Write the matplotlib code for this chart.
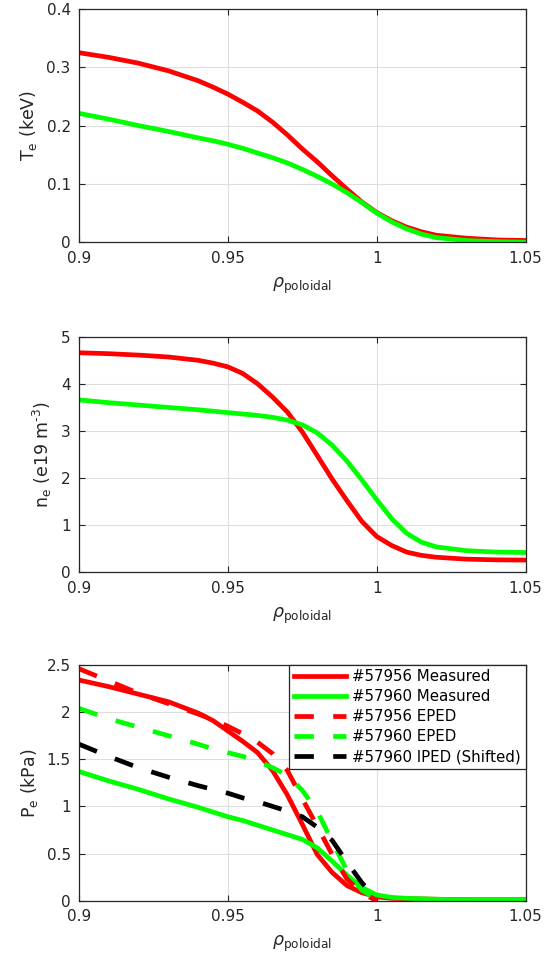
import matplotlib
matplotlib.use("Agg")
import matplotlib.pyplot as plt
from matplotlib.ticker import FixedLocator, FuncFormatter

plt.rcParams['font.family'] = ['DejaVu Sans']

# Radial coordinate grids (normalised poloidal flux)
rho = [0.90, 0.91, 0.92, 0.93, 0.94, 0.945, 0.95, 0.955, 0.96, 0.965, 0.97,
       0.975, 0.98, 0.985, 0.99, 0.995, 1.00, 1.005, 1.01, 1.015, 1.02,
       1.03, 1.04, 1.05]
rho_eped = [0.90, 0.91, 0.92, 0.93, 0.94, 0.945, 0.95, 0.955, 0.96, 0.965,
            0.97, 0.975, 0.98, 0.985, 0.99, 0.995, 1.00]

# Electron temperature (keV)
te_57956 = [0.325, 0.317, 0.307, 0.294, 0.277, 0.266, 0.254, 0.240, 0.225,
            0.206, 0.184, 0.160, 0.138, 0.114, 0.091, 0.069, 0.051, 0.037,
            0.026, 0.018, 0.012, 0.007, 0.004, 0.003]
te_57960 = [0.221, 0.211, 0.200, 0.190, 0.179, 0.174, 0.168, 0.161, 0.153,
            0.145, 0.136, 0.125, 0.113, 0.100, 0.085, 0.068, 0.050, 0.035,
            0.023, 0.014, 0.008, 0.003, 0.001, 0.000]

# Electron density (1e19 m^-3)
ne_57956 = [4.66, 4.64, 4.61, 4.57, 4.50, 4.44, 4.36, 4.22, 4.00, 3.72, 3.40,
            2.98, 2.48, 1.98, 1.52, 1.08, 0.76, 0.57, 0.43, 0.36, 0.32,
            0.28, 0.265, 0.26]
ne_57960 = [3.66, 3.60, 3.55, 3.50, 3.45, 3.42, 3.39, 3.36, 3.33, 3.29, 3.23,
            3.13, 2.96, 2.70, 2.36, 1.96, 1.54, 1.14, 0.83, 0.64, 0.54,
            0.46, 0.43, 0.42]

# Electron pressure (kPa)
pe_57956 = [2.34, 2.27, 2.19, 2.11, 1.99, 1.91, 1.80, 1.69, 1.57, 1.38, 1.12,
            0.81, 0.49, 0.30, 0.16, 0.085, 0.04, 0.025, 0.02, 0.018, 0.015,
            0.01, 0.01, 0.01]
pe_57960 = [1.37, 1.27, 1.18, 1.08, 0.99, 0.94, 0.89, 0.85, 0.80, 0.75, 0.70,
            0.65, 0.56, 0.42, 0.27, 0.14, 0.06, 0.035, 0.025, 0.02, 0.015,
            0.01, 0.01, 0.01]
pe_eped_57956 = [2.46, 2.33, 2.20, 2.09, 1.98, 1.92, 1.85, 1.77, 1.68, 1.56,
                 1.38, 1.08, 0.79, 0.49, 0.23, 0.08, 0.0]
pe_eped_57960 = [2.04, 1.93, 1.84, 1.75, 1.66, 1.61, 1.57, 1.53, 1.48, 1.41,
                 1.33, 1.17, 0.95, 0.63, 0.32, 0.11, 0.02]
pe_iped_57960 = [1.66, 1.53, 1.41, 1.31, 1.22, 1.18, 1.14, 1.09, 1.05, 1.00,
                 0.95, 0.89, 0.78, 0.64, 0.41, 0.19, 0.02]

x_ticks = [0.9, 0.95, 1.0, 1.05]
te_ticks = [0, 0.1, 0.2, 0.3, 0.4]
ne_ticks = [0, 1, 2, 3, 4, 5]
pe_ticks = [0, 0.5, 1, 1.5, 2, 2.5]

AX_COL = '0.15'
RED = (1, 0, 0)
GREEN = (0, 1, 0)
LW = 3.4
DASH = (0, (4.1, 4.1))

fig = plt.figure(figsize=(5.59, 9.64), dpi=100)

left, width = 0.1413, 0.7990
ax_te = fig.add_axes([left, 0.7487, width, 0.2420])
ax_ne = fig.add_axes([left, 0.4063, width, 0.2444])
ax_pe = fig.add_axes([left, 0.0657, width, 0.2445])

fmt = FuncFormatter(lambda v, p: f"{v:g}")


def style(ax, yticks, ylabel):
    ax.set_xlim(0.9, 1.05)
    ax.set_ylim(yticks[0], yticks[-1])
    ax.xaxis.set_major_locator(FixedLocator(x_ticks))
    ax.yaxis.set_major_locator(FixedLocator(yticks))
    ax.xaxis.set_major_formatter(fmt)
    ax.yaxis.set_major_formatter(fmt)
    ax.grid(True, color='0.87', linewidth=0.8)
    ax.set_axisbelow(True)
    ax.tick_params(direction='in', length=4, width=0.8, colors=AX_COL,
                   labelsize=11, top=True, right=True, pad=6)
    for s in ax.spines.values():
        s.set_color(AX_COL)
        s.set_linewidth(0.9)
    ax.set_xlabel(r'$\rho_{\rm poloidal}$', fontsize=12.5, color=AX_COL,
                  labelpad=7)
    ax.set_ylabel(ylabel, fontsize=12.5, color=AX_COL, labelpad=5)


ax_te.plot(rho, te_57956, color=RED, lw=LW)
ax_te.plot(rho, te_57960, color=GREEN, lw=LW)
style(ax_te, te_ticks, r'T$_{\rm e}$ (keV)')

ax_ne.plot(rho, ne_57956, color=RED, lw=LW)
ax_ne.plot(rho, ne_57960, color=GREEN, lw=LW)
style(ax_ne, ne_ticks, r'n$_{\rm e}$ (e19 m$^{\text{-}3}$)')

ax_pe.plot(rho, pe_57956, color=RED, lw=LW, label='#57956 Measured')
ax_pe.plot(rho, pe_57960, color=GREEN, lw=LW, label='#57960 Measured')
ax_pe.plot(rho_eped, pe_eped_57956, color=RED, lw=LW, ls=DASH,
           label='#57956 EPED')
ax_pe.plot(rho_eped, pe_eped_57960, color=GREEN, lw=LW, ls=DASH,
           label='#57960 EPED')
ax_pe.plot(rho_eped, pe_iped_57960, color='k', lw=LW, ls=DASH,
           label='#57960 IPED (Shifted)')
style(ax_pe, pe_ticks, r'P$_{\rm e}$ (kPa)')

leg = ax_pe.legend(loc='upper right', bbox_to_anchor=(1.0, 1.0),
                   borderaxespad=0.0, fontsize=10.8, frameon=True,
                   fancybox=False, framealpha=1.0, edgecolor=AX_COL,
                   handlelength=3.5, handletextpad=0.4, labelspacing=0.33,
                   borderpad=0.3)
leg.get_frame().set_linewidth(0.9)

fig.savefig('out.png', dpi=100)
